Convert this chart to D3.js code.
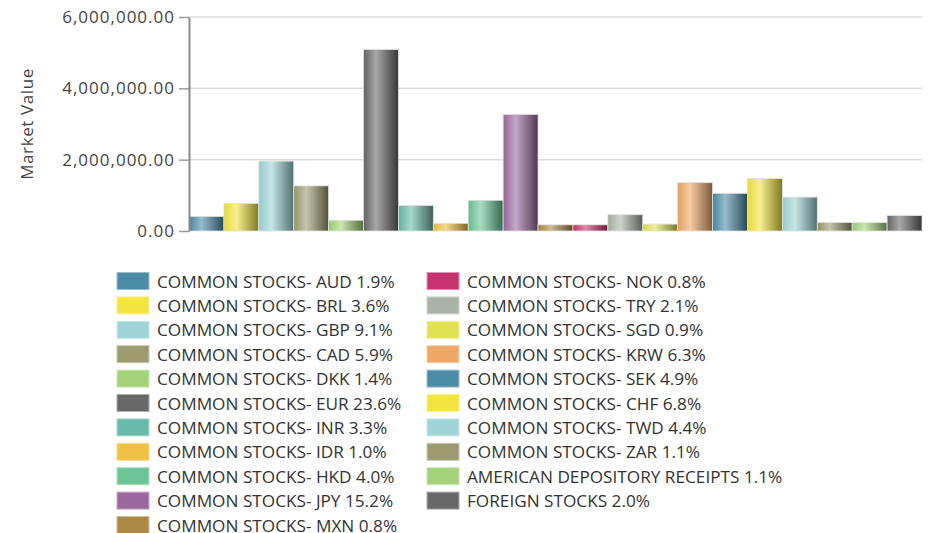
<!DOCTYPE html>
<html>
<head>
<meta charset="utf-8">
<script src="https://cdn.jsdelivr.net/npm/d3@7"></script>
<style>
  html, body { margin: 0; padding: 0; background: #fff; }
  svg { display: block; }
  text { font-family: "Open Sans", sans-serif; }
</style>
</head>
<body>
<svg id="chart" width="930" height="533"></svg>
<script>
const categories = [
  "COMMON STOCKS- AUD", "COMMON STOCKS- BRL", "COMMON STOCKS- GBP", "COMMON STOCKS- CAD",
  "COMMON STOCKS- DKK", "COMMON STOCKS- EUR", "COMMON STOCKS- INR", "COMMON STOCKS- IDR",
  "COMMON STOCKS- HKD", "COMMON STOCKS- JPY", "COMMON STOCKS- MXN", "COMMON STOCKS- NOK",
  "COMMON STOCKS- TRY", "COMMON STOCKS- SGD", "COMMON STOCKS- KRW", "COMMON STOCKS- SEK",
  "COMMON STOCKS- CHF", "COMMON STOCKS- TWD", "COMMON STOCKS- ZAR",
  "AMERICAN DEPOSITORY RECEIPTS", "FOREIGN STOCKS"
];
const percents = ["1.9%", "3.6%", "9.1%", "5.9%", "1.4%", "23.6%", "3.3%", "1.0%", "4.0%", "15.2%", "0.8%",
  "0.8%", "2.1%", "0.9%", "6.3%", "4.9%", "6.8%", "4.4%", "1.1%", "1.1%", "2.0%"];
const marketValues = [410000, 776000, 1960000, 1265000, 302000, 5090000, 715000, 216000, 862000, 3270000, 173000,
  173000, 458000, 194000, 1355000, 1057000, 1470000, 950000, 240000, 235000, 432000];
const colors = ["#4a8ba5", "#f2e53d", "#9ed4d6", "#9c9b70", "#a3d27a", "#686868", "#69bba9", "#efc043",
  "#6bc597", "#9b689e", "#ab8a45", "#c8336f", "#aab4a6", "#e0e253", "#eea766", "#4a8ba5",
  "#f2e53d", "#9ed4d6", "#9c9b70", "#a3d27a", "#686868"];
const yTicks = [0, 2000000, 4000000, 6000000];
const yTitle = "Market Value";

const svg = d3.select("#chart");
const plot = { left: 189, right: 922, top: 17, bottom: 231 };

const x = d3.scaleBand().domain(categories).range([plot.left, plot.right]).padding(0);
const y = d3.scaleLinear().domain([0, 6000000]).range([plot.bottom, plot.top]);

// gradients
const defs = svg.append("defs");
colors.forEach((c, i) => {
  const g = defs.append("linearGradient").attr("id", "grad" + i)
    .attr("x1", "0%").attr("x2", "100%").attr("y1", "0%").attr("y2", "0%");
  const base = d3.rgb(c);
  g.append("stop").attr("offset", "0%").attr("stop-color", base.darker(0.15).formatHex());
  g.append("stop").attr("offset", "36%").attr("stop-color", d3.interpolateRgb(c, "#ffffff")(0.42));
  g.append("stop").attr("offset", "100%").attr("stop-color", base.darker(1.8).formatHex());
});

// gridlines
svg.append("g").selectAll("line").data(yTicks.filter(d => d > 0)).join("line")
  .attr("x1", plot.left).attr("x2", plot.right)
  .attr("y1", d => y(d)).attr("y2", d => y(d))
  .attr("stroke", "#dcdcdc").attr("stroke-width", 1.5);

// bars
svg.append("g").selectAll("rect").data(marketValues).join("rect")
  .attr("x", (d, i) => x(categories[i]))
  .attr("width", x.bandwidth())
  .attr("y", d => y(d))
  .attr("height", d => y(0) - y(d))
  .attr("fill", (d, i) => `url(#grad${i})`)
  .attr("stroke", "#e2e2e2").attr("stroke-width", 0.8);

// y axis
const yAxis = svg.append("g").attr("transform", `translate(${plot.left},0)`)
  .call(d3.axisLeft(y).tickValues(yTicks).tickFormat(d3.format(",.2f")).tickSize(10).tickPadding(4).tickSizeOuter(0));
yAxis.select(".domain").attr("stroke", "#8a8a8a").attr("stroke-width", 2);
yAxis.selectAll(".tick line").attr("stroke", "#9a9a9a").attr("stroke-width", 1.5);
yAxis.selectAll(".tick text").attr("fill", "#444")
  .style("font-size", "17px").style("letter-spacing", "1px")
  .style("font-family", "'Open Sans', sans-serif");

svg.append("text")
  .attr("transform", "translate(33,124) rotate(-90)")
  .attr("text-anchor", "middle")
  .attr("fill", "#444")
  .style("font-size", "17px")
  .style("letter-spacing", "0.6px")
  .text(yTitle);

// legend
const rows = 11;
const legend = svg.append("g");
const items = legend.selectAll("g").data(categories).join("g")
  .attr("transform", (d, i) => {
    const col = Math.floor(i / rows), row = i % rows;
    return `translate(${117 + col * 310},${272.5 + row * 24.4})`;
  });
items.append("rect").attr("width", 32).attr("height", 17)
  .attr("fill", (d, i) => colors[i])
  .attr("stroke", (d, i) => d3.interpolateRgb(colors[i], "#fff")(0.45)).attr("stroke-width", 1);
items.append("text").attr("x", 40).attr("y", 15)
  .attr("fill", "#333").style("font-size", "17.2px")
  .text((d, i) => `${d} ${percents[i]}`);
</script>
</body>
</html>
